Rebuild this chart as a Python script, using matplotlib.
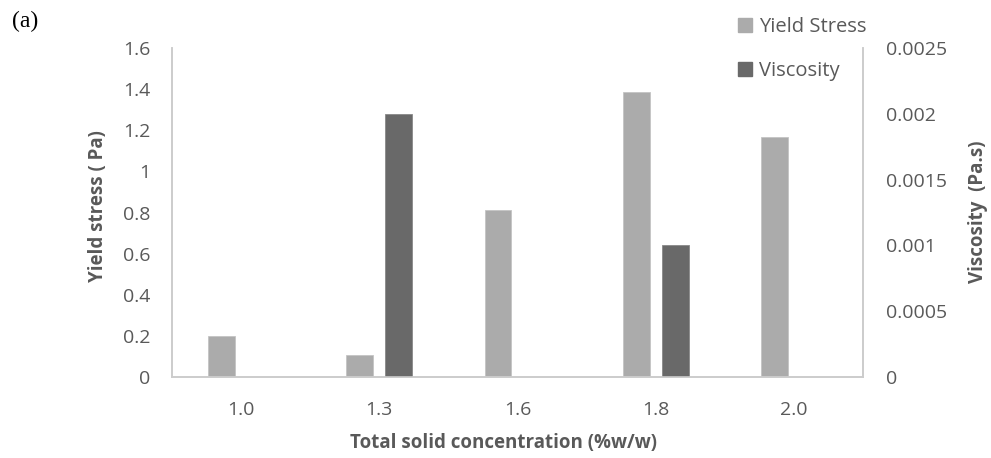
import numpy as np
import matplotlib
matplotlib.use("Agg")
import matplotlib.pyplot as plt
from matplotlib.patches import Patch

# dane
kategorie = ["1.0", "1.3", "1.6", "1.8", "2.0"]
yield_stress = [0.2, 0.107, 0.81, 1.385, 1.167]
viscosity = [0.0, 0.002, 0.0, 0.001, 0.0]

left_ticks = [0, 0.2, 0.4, 0.6, 0.8, 1.0, 1.2, 1.4, 1.6]
left_labels = ["0", "0.2", "0.4", "0.6", "0.8", "1", "1.2", "1.4", "1.6"]
right_ticks = [0, 0.0005, 0.001, 0.0015, 0.002, 0.0025]
right_labels = ["0", "0.0005", "0.001", "0.0015", "0.002", "0.0025"]

plt.rcParams['font.family'] = ['Open Sans', 'DejaVu Sans']
txt = '#595959'
spine_c = '#cccccc'
c_yield = '#ababab'
c_visc = '#696969'

W, H = 991, 458
fig = plt.figure(figsize=(W / 100, H / 100), dpi=100)
ax = fig.add_axes([172 / W, 1 - 377 / H, (863 - 172) / W, (377 - 48) / H])
ax2 = ax.twinx()

x = np.arange(len(kategorie))
w = 0.195
off = 0.141
ax.bar(x - off, yield_stress, w, color=c_yield, edgecolor='#c4c4c4', linewidth=0.6)
ax2.bar(x + off, viscosity, w, color=c_visc, edgecolor='#888888', linewidth=0.6)

ax.set_xlim(-0.5, len(kategorie) - 0.5)
ax.set_ylim(0, 1.6)
ax2.set_ylim(0, 0.0025)
ax.set_xticks(x)
ax.set_xticklabels(kategorie)
ax.set_yticks(left_ticks)
ax.set_yticklabels(left_labels)
ax2.set_yticks(right_ticks)
ax2.set_yticklabels(right_labels)

for a in (ax, ax2):
    a.tick_params(length=0, labelsize=14, colors=txt)
    a.spines['top'].set_visible(False)
    for s in ('left', 'right', 'bottom'):
        a.spines[s].set_color(spine_c)
        a.spines[s].set_linewidth(1.2)
ax.tick_params(axis='y', pad=15.5)
ax2.tick_params(axis='y', pad=16.5)
ax.tick_params(axis='x', pad=17)

# tytuly osi
fig.text(503 / W, 1 - 443 / H, "Total solid concentration (%w/w)", fontsize=13.5,
         fontweight='bold', color=txt, ha='center', va='center')
fig.text(98 / W, 1 - 206 / H, "Yield stress ( Pa)", fontsize=13.5, fontweight='bold',
         color=txt, ha='center', va='center', rotation=90)
fig.text(978 / W, 1 - 212 / H, "Viscosity  (Pa.s)", fontsize=13.5, fontweight='bold',
         color=txt, ha='center', va='center', rotation=90)

handles = [Patch(color=c_yield, label="Yield Stress"), Patch(color=c_visc, label="Viscosity")]
fig.legend(handles=handles, loc='upper left', bbox_to_anchor=(738 / W, 1 - 17 / H), frameon=False,
           fontsize=14.5, labelcolor=txt, handlelength=0.7, handleheight=0.7, handletextpad=0.36,
           labelspacing=1.2, borderpad=0, borderaxespad=0)

fig.text(12 / W, 1 - 21 / H, "(a)", family='Liberation Serif', fontsize=17, va='center', ha='left')

fig.savefig("out.png", dpi=100)
